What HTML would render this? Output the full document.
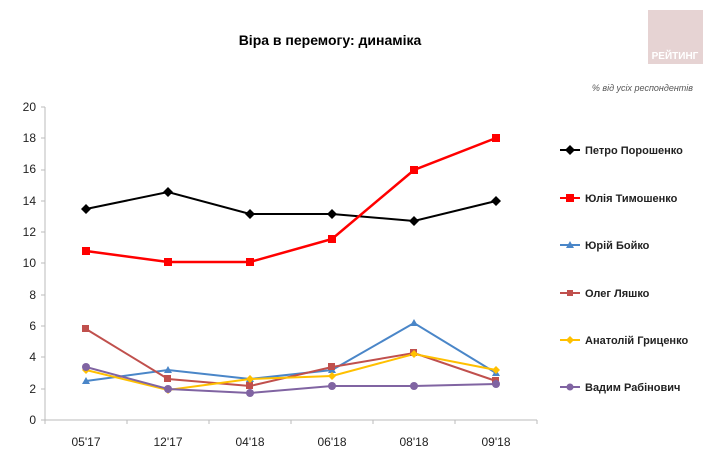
<!DOCTYPE html><html><head><meta charset="utf-8"><style>body{margin:0;background:#fff}svg{display:block;font-family:"Liberation Sans",sans-serif}</style></head><body>
<svg width="713" height="470" viewBox="0 0 713 470">
<rect x="648" y="10" width="55" height="54" fill="#e6d3d3"/>
<text x="675" y="59" font-size="10" font-weight="bold" fill="#fff" text-anchor="middle">РЕЙТИНГ</text>
<text x="330" y="45" font-size="14" font-weight="bold" text-anchor="middle">Віра в перемогу: динаміка</text>
<text x="693" y="91" font-size="9" font-style="italic" fill="#555" text-anchor="end">% від усіх респондентів</text>
<g font-size="12" fill="#222" text-anchor="end">
<text x="36" y="424">0</text><text x="36" y="393">2</text><text x="36" y="361">4</text><text x="36" y="330">6</text><text x="36" y="299">8</text><text x="36" y="267">10</text><text x="36" y="236">12</text><text x="36" y="205">14</text><text x="36" y="173">16</text><text x="36" y="142">18</text><text x="36" y="111">20</text></g>
<g stroke="#bbb" stroke-width="1"><line x1="45" y1="107" x2="45" y2="420"/><line x1="45" y1="420" x2="537" y2="420"/>
<path d="M41 420h4M41 389h4M41 357h4M41 326h4M41 295h4M41 263h4M41 232h4M41 201h4M41 170h4M41 138h4M41 107h4M45 420v4M127 420v4M209 420v4M291 420v4M373 420v4M455 420v4M537 420v4"/></g>
<g font-size="12" fill="#222" text-anchor="middle"><text x="86" y="446">05'17</text><text x="168" y="446">12'17</text><text x="250" y="446">04'18</text><text x="332" y="446">06'18</text><text x="414" y="446">08'18</text><text x="496" y="446">09'18</text></g>
<g fill="none" stroke-width="2">
<polyline stroke="#000" points="86,209 168,192 250,214 332,214 414,221 496,201"/>
<polyline stroke="#f00" stroke-width="2.5" points="86,251 168,262 250,262 332,239 414,170 496,138"/>
<polyline stroke="#4a86c8" points="86,381 168,370 250,379 332,370 414,323 496,373"/>
<polyline stroke="#c0504d" points="86,329 168,379 250,386 332,367 414,353 496,381"/>
<polyline stroke="#ffc000" points="86,370 168,390 250,379 332,376 414,354 496,370"/>
<polyline stroke="#8064a2" points="86,367 168,389 250,393 332,386 414,386 496,384"/></g>
<g fill="#000"><path d="M86 204l5 5-5 5-5-5zM168 187l5 5-5 5-5-5zM250 209l5 5-5 5-5-5zM332 209l5 5-5 5-5-5zM414 216l5 5-5 5-5-5zM496 196l5 5-5 5-5-5z"/></g>
<g fill="#f00"><rect x="82" y="247" width="8" height="8"/><rect x="164" y="258" width="8" height="8"/><rect x="246" y="258" width="8" height="8"/><rect x="328" y="235" width="8" height="8"/><rect x="410" y="166" width="8" height="8"/><rect x="492" y="134" width="8" height="8"/></g>
<g fill="#4a86c8"><path d="M86 377l4 7h-8zM168 366l4 7h-8zM250 375l4 7h-8zM332 366l4 7h-8zM414 319l4 7h-8zM496 369l4 7h-8z"/></g>
<g fill="#c0504d"><rect x="82" y="325" width="7" height="7"/><rect x="164" y="375" width="7" height="7"/><rect x="246" y="382" width="7" height="7"/><rect x="328" y="363" width="7" height="7"/><rect x="410" y="349" width="7" height="7"/><rect x="492" y="377" width="7" height="7"/></g>
<g fill="#ffc000"><path d="M86 366l4 4-4 4-4-4zM168 386l4 4-4 4-4-4zM250 375l4 4-4 4-4-4zM332 372l4 4-4 4-4-4zM414 350l4 4-4 4-4-4zM496 366l4 4-4 4-4-4z"/></g>
<g fill="#8064a2"><circle cx="86" cy="367" r="4"/><circle cx="168" cy="389" r="4"/><circle cx="250" cy="393" r="4"/><circle cx="332" cy="386" r="4"/><circle cx="414" cy="386" r="4"/><circle cx="496" cy="384" r="4"/></g>
<g stroke-width="2"><line x1="560" y1="150" x2="580" y2="150" stroke="#000"/><line x1="560" y1="198" x2="580" y2="198" stroke="#f00"/><line x1="560" y1="245" x2="580" y2="245" stroke="#4a86c8"/><line x1="560" y1="293" x2="580" y2="293" stroke="#c0504d"/><line x1="560" y1="340" x2="580" y2="340" stroke="#ffc000"/><line x1="560" y1="387" x2="580" y2="387" stroke="#8064a2"/></g>
<path d="M570 145l5 5-5 5-5-5z" fill="#000"/><rect x="566" y="194" width="8" height="8" fill="#f00"/><path d="M570 241l4 7h-8z" fill="#4a86c8"/><rect x="567" y="290" width="6" height="6" fill="#c0504d"/><path d="M570 336l4 4-4 4-4-4z" fill="#ffc000"/><circle cx="570" cy="387" r="3.5" fill="#8064a2"/>
<g font-size="11" font-weight="bold" fill="#222"><text x="585" y="154">Петро Порошенко</text><text x="585" y="202">Юлія Тимошенко</text><text x="585" y="249">Юрій Бойко</text><text x="585" y="297">Олег Ляшко</text><text x="585" y="344">Анатолій Гриценко</text><text x="585" y="391">Вадим Рабінович</text></g>
</svg></body></html>
